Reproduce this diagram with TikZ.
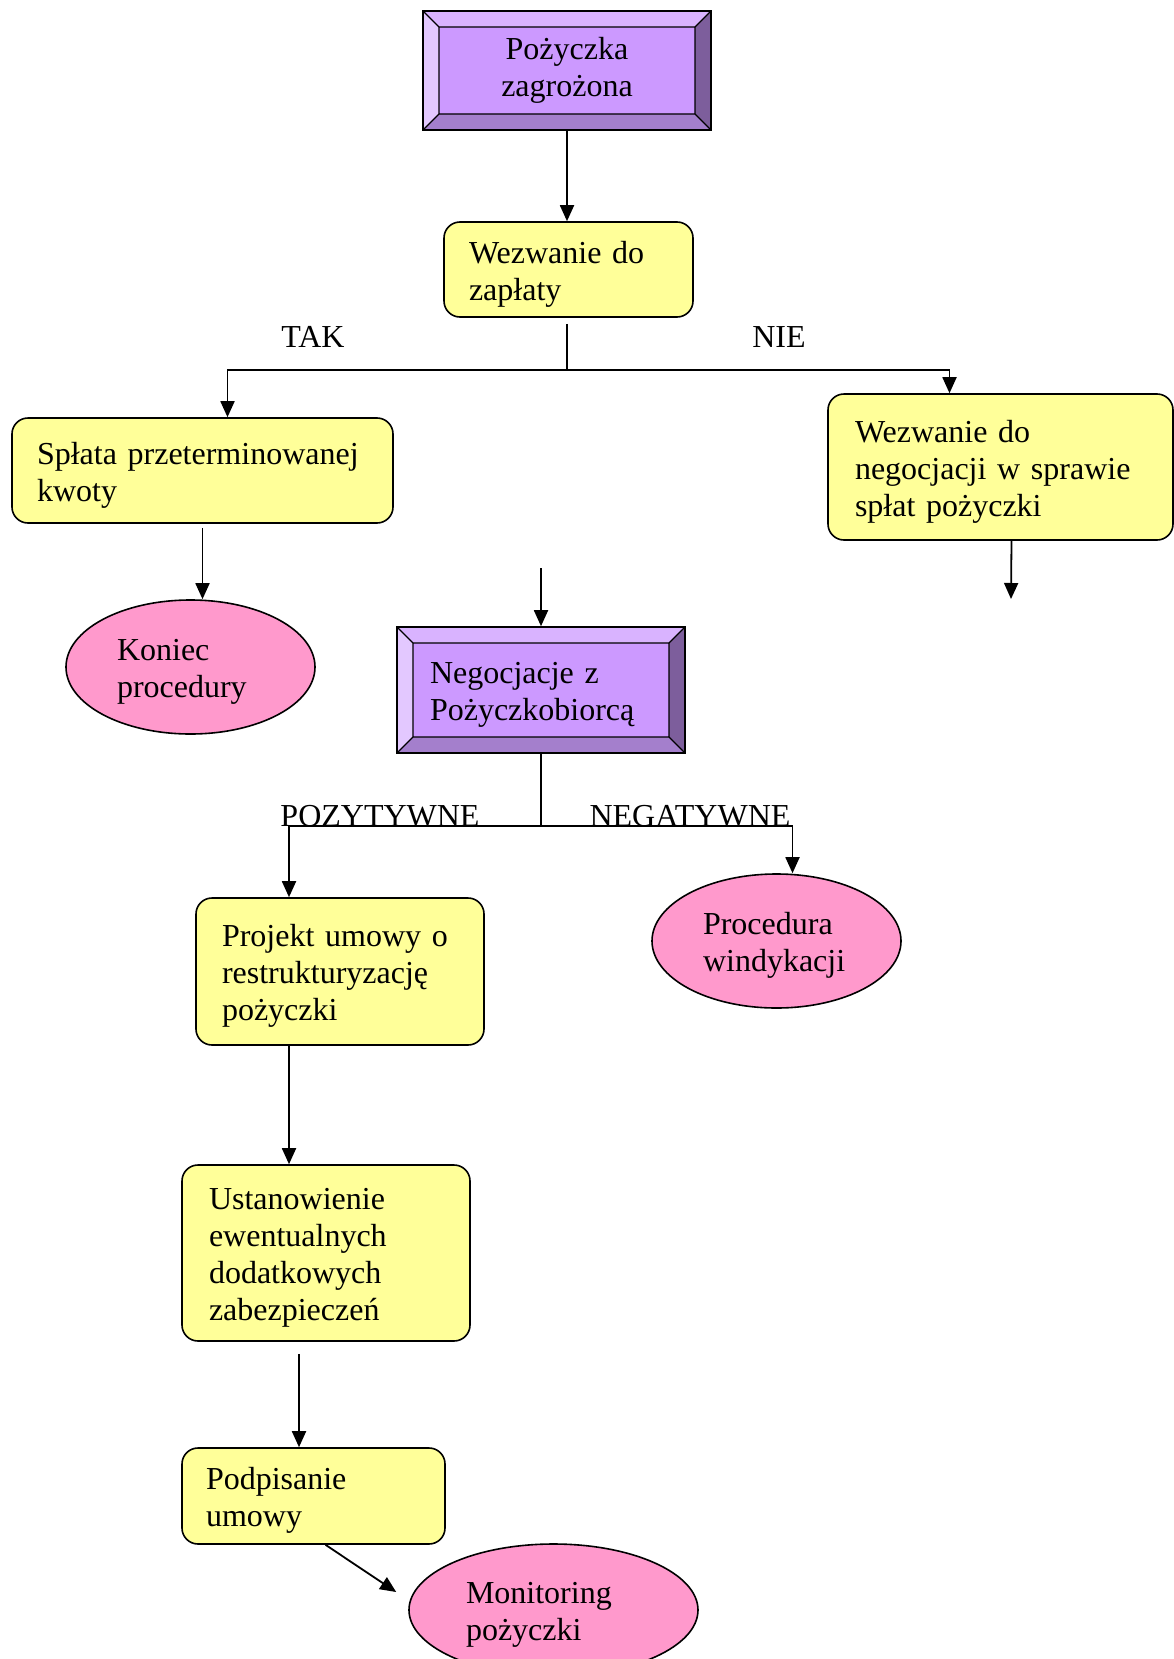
\documentclass[tikz,border=0pt]{standalone}
\usepackage{fontspec}
\setmainfont{Liberation Serif}
\usetikzlibrary{arrows.meta,positioning,shapes.geometric,calc}
\definecolor{kartkaYellow}{HTML}{FFFF99}
\definecolor{kartkaPink}{HTML}{FF99CC}
\definecolor{lilacFace}{HTML}{CC99FF}
\definecolor{lilacTop}{HTML}{D9B3FF}
\definecolor{lilacLeft}{HTML}{E3C8FF}
\definecolor{lilacRight}{HTML}{7D5E9C}
\definecolor{lilacBottom}{HTML}{A47FCC}

\tikzset{
  obniz/.style={execute at begin node={\rule{0pt}{31pt}}},
  krok/.style={draw, line width=1.6pt, rounded corners=16pt, fill=kartkaYellow,
               align=left, inner xsep=25pt, inner ysep=0pt, obniz},
  koniec/.style={ellipse, draw, line width=1.6pt, fill=kartkaPink, align=left, obniz,
                 inner sep=0pt, minimum width=249pt, minimum height=134pt, text width=147pt},
  faza/.style={draw, line width=1.6pt, fill=lilacFace, inner ysep=0pt, obniz,
    path picture={
      \coordinate (bA) at (path picture bounding box.north west);
      \coordinate (bB) at (path picture bounding box.north east);
      \coordinate (bC) at (path picture bounding box.south east);
      \coordinate (bD) at (path picture bounding box.south west);
      \coordinate (iA) at ([shift={(16pt,-16pt)}]bA);
      \coordinate (iB) at ([shift={(-16pt,-16pt)}]bB);
      \coordinate (iC) at ([shift={(-16pt,16pt)}]bC);
      \coordinate (iD) at ([shift={(16pt,16pt)}]bD);
      \fill[lilacTop] (bA) -- (bB) -- (iB) -- (iA) -- cycle;
      \fill[lilacRight] (bB) -- (bC) -- (iC) -- (iB) -- cycle;
      \fill[lilacBottom] (bC) -- (bD) -- (iD) -- (iC) -- cycle;
      \fill[lilacLeft] (bD) -- (bA) -- (iA) -- (iD) -- cycle;
      \draw[line width=1.3pt] (iA) -- (iB) -- (iC) -- (iD) -- cycle
        (bA) -- (iA) (bB) -- (iB) (bC) -- (iC) (bD) -- (iD);
    }},
  strzalka/.style={line width=1.8pt, -{Triangle[length=16pt,width=14pt]}},
  linia/.style={line width=1.8pt},
  etykieta/.style={anchor=base, inner sep=0pt}
}

\begin{document}
\begin{tikzpicture}[x=1pt, y=-1pt, font=\fontsize{32}{37}\selectfont]
  \useasboundingbox (0,0) rectangle (1174,1659);

  % gorny poziom
  \node[faza, minimum width=288pt, minimum height=119pt, align=center] (zagrozona) at (567,70.5) {Pożyczka\\zagrożona};
  \node[krok, text width=199pt, minimum height=95pt] (wezwanie) at (568.5,269.5) {Wezwanie do\\zapłaty};
  \node[etykieta] (tak) at (313,347) {TAK};
  \node[etykieta] (nie) at (779,347) {NIE};
  \node[krok, text width=331pt, minimum height=105pt] (splata) at (202.5,470.5) {Spłata przeterminowanej\\kwoty};
  \node[krok, inner xsep=27pt, text width=291pt, minimum height=146pt] (wezwnegocj) at (1000.5,467) {Wezwanie do\\negocjacji w sprawie\\spłat pożyczki};
  \node[koniec] (koniecproc) at (190.5,667) {Koniec\\procedury};

  % negocjacje
  \node[faza, minimum width=288pt, minimum height=126pt, align=left, inner xsep=33pt, text width=222pt] (negocjacje) at (541,690) {Negocjacje z\\Pożyczkobiorcą};
  \node[etykieta] (pozyt) at (380,826) {POZYTYWNE};
  \node[etykieta] (negat) at (690,826) {NEGATYWNE};
  \node[krok, inner xsep=26pt, text width=236pt, minimum height=147pt] (projekt) at (340,971.5) {Projekt umowy o\\restrukturyzację\\pożyczki};
  \node[koniec] (windykacja) at (776.5,941) {Procedura\\windykacji};
  \node[krok, inner xsep=27pt, text width=234pt, minimum height=176pt] (ustanowienie) at (326,1253) {Ustanowienie\\ewentualnych\\dodatkowych\\zabezpieczeń};
  \node[krok, inner xsep=24pt, text width=215pt, minimum height=96pt] (podpisanie) at (313.5,1496) {Podpisanie\\umowy};
  \node[koniec, minimum width=289pt, minimum height=132pt, text width=175pt] (monitoring) at (553.5,1610) {Monitoring\\pożyczki};

  \coordinate (rozw1) at (567,370);
  \coordinate (rozw2) at (541,826);
  \coordinate (wolny1) at (541,568);
  \coordinate (wolny2) at (1011,599);

  \draw[strzalka] (zagrozona.south) -- (zagrozona.south |- wezwanie.north);
  \draw[linia, shorten <=6pt] (wezwanie.south -| rozw1) -- (rozw1);
  \draw[strzalka] (rozw1) -| ([xshift=25pt]splata.north);
  \draw[strzalka] (rozw1) -| ([xshift=-51pt]wezwnegocj.north);
  \draw[strzalka, shorten <=4pt] (splata.south) -- (splata.south |- koniecproc.north);
  \draw[strzalka] ([xshift=11pt]wezwnegocj.south) -- (wolny2);
  \draw[strzalka] (wolny1) -- (negocjacje.north);
  \draw[linia] (negocjacje.south) -- (rozw2);
  \draw[strzalka] (rozw2) -| ([xshift=-51pt]projekt.north);
  \draw[strzalka] (rozw2) -| ([xshift=16pt]windykacja.north);
  \draw[strzalka] ([xshift=-51pt]projekt.south) -- ([xshift=-51pt]projekt.south |- ustanowienie.north);
  \draw[strzalka, shorten <=12pt] ([xshift=-27pt]ustanowienie.south) -- ([xshift=-27pt]ustanowienie.south |- podpisanie.north);
  \draw[strzalka] ([xshift=12pt]podpisanie.south) -- ([xshift=-12pt,yshift=18pt]monitoring.west);
\end{tikzpicture}
\end{document}
